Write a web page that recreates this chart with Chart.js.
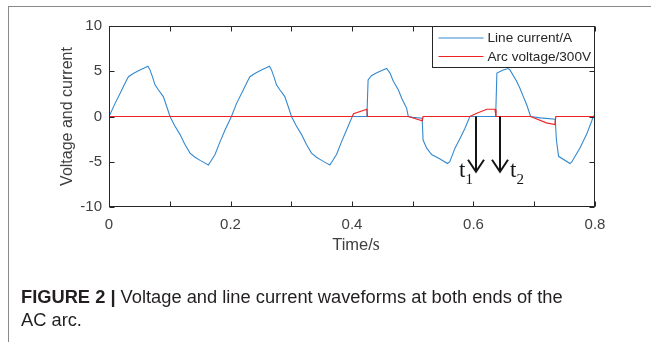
<!DOCTYPE html>
<html><head><meta charset="utf-8">
<script src="https://cdn.jsdelivr.net/npm/chart.js@4.4.1/dist/chart.umd.min.js"></script>
<style>
html,body{margin:0;padding:0;background:#fff;}
#wrap{position:relative;width:651px;height:342px;overflow:hidden;background:#fff;}
#frame{position:absolute;left:8px;top:6px;width:700px;height:400px;border-top:1px solid #8a8a8a;border-left:1px solid #8a8a8a;}
canvas{position:absolute;left:0;top:0;}
#cap{position:absolute;left:21px;top:285px;font-family:"Liberation Sans",Arial,sans-serif;font-size:18.3px;line-height:23px;color:#231f20;white-space:nowrap;}
</style></head><body>
<div id="wrap"><div id="frame"></div><canvas id="c" width="651" height="342"></canvas>
<div id="cap"><b>FIGURE 2 |</b> Voltage and line current waveforms at both ends of the<br>AC arc.</div></div>
<script>
// ---- data ----
const seriesLabels = ['Line current/A', 'Arc voltage/300V'];
const currentTime = [
 0,0.010,0.020,0.028,0.032,0.040,0.050,0.058,0.064,0.0675,0.072,0.0757,0.0812,0.0894,0.095,0.1004,
 0.108,0.117,0.125,0.1333,0.1416,0.150,0.158,0.1635,0.167,0.1745,0.1827,0.191,0.2015,
 0.210,0.220,0.228,0.232,0.240,0.250,0.258,0.264,0.2675,0.272,0.2757,0.2812,0.2894,0.295,0.3004,
 0.308,0.317,0.325,0.3333,0.3416,0.350,0.358,0.3635,0.367,0.3745,0.3827,0.391,0.4005,
 0.4245,0.4265,0.432,0.440,0.450,0.457,0.4626,0.468,0.4762,0.482,0.490,0.4927,
 0.500,0.5155,0.517,0.523,0.531,0.545,0.557,0.561,0.5695,0.578,0.586,0.594,
 0.6365,0.6385,0.649,0.657,0.660,0.671,0.6766,0.682,0.6876,0.694,
 0.710,0.7345,0.7365,0.740,0.7588,0.762,0.775,0.786,0.7946,0.797,0.8
];
const currentValue = [
 0,1.45,2.8,3.9,4.4,4.75,5.1,5.35,5.55,5.15,4.3,3.5,2.95,2.2,1.1,0,
 -1.0,-2.0,-3.1,-4.05,-4.5,-4.85,-5.15,-5.35,-5.0,-4.2,-2.8,-1.5,0,
 1.45,2.8,3.9,4.4,4.75,5.1,5.35,5.55,5.15,4.3,3.5,2.95,2.2,1.1,0,
 -1.0,-2.0,-3.1,-4.05,-4.5,-4.85,-5.15,-5.35,-5.0,-4.2,-2.8,-1.5,0,
 0,4.05,4.5,4.8,5.1,5.3,4.8,3.9,2.95,2.0,0.9,0,
 -0.1,-0.2,-2.6,-3.5,-4.2,-4.7,-5.2,-5.0,-3.5,-2.4,-1.3,0,
 0,4.8,5.15,5.3,5.15,3.9,3.1,2.2,1.3,0,
 -0.15,-0.3,-2.6,-4.4,-5.2,-5.0,-3.5,-2.0,-0.5,0,0
];
const voltageTime  = [0,0.4005,0.4025,0.4245,0.4255,0.4927,0.5155,0.517,0.594,0.6035,0.6217,0.6354,0.637,0.694,0.720,0.734,0.7355,0.797,0.8];
const voltageValue = [0,0,0.3,0.8,0,0,-0.47,0,0,0.3,0.8,0.8,0,0,-0.7,-0.9,0,0,0.1];
const xTickLabels = ['0','0.2','0.4','0.6','0.8'];
const yTickValues = [-10,-5,0,5,10];
const arrowTimes = [0.604, 0.6436];
const arrowSubs = ['1','2'];
const arrowDepth = -6.1;

const SANS = '"Liberation Sans", Arial, sans-serif';
const SERIF = '"Liberation Serif", "Times New Roman", serif';
const AXIS = '#262626';
const BLUE = '#3489d0';
const RED = '#ee2424';

function pts(t, v){ return t.map((x,i)=>({x:x, y:v[i]})); }

const decor = {
  id:'decor',
  afterDatasetsDraw(chart){
    const {ctx, chartArea:a, scales:{x, y}} = chart;
    ctx.save();
    // box
    ctx.strokeStyle = AXIS; ctx.lineWidth = 1;
    const L = Math.round(a.left)+0.5, R = Math.round(a.right)-0.5, T = Math.round(a.top)+0.5, B = Math.round(a.bottom)-0.5;
    ctx.strokeRect(L, T, R-L, B-T);
    // inward ticks
    ctx.beginPath();
    x.ticks.forEach(tk=>{
      const px = Math.round(x.getPixelForValue(tk.value))+0.5;
      ctx.moveTo(px, B); ctx.lineTo(px, B-5);
      ctx.moveTo(px, T); ctx.lineTo(px, T+5);
    });
    yTickValues.forEach(v=>{
      const py = Math.round(y.getPixelForValue(v))+0.5;
      ctx.moveTo(L, py); ctx.lineTo(L+5, py);
      ctx.moveTo(R, py); ctx.lineTo(R-5, py);
    });
    ctx.stroke();
    // arrows t1, t2
    ctx.strokeStyle = '#151515'; ctx.fillStyle = '#151515'; ctx.lineWidth = 2;
    arrowTimes.forEach((t,i)=>{
      const px = Math.round(x.getPixelForValue(t));
      const y0 = y.getPixelForValue(0), y1 = y.getPixelForValue(arrowDepth);
      ctx.beginPath(); ctx.moveTo(px, y0); ctx.lineTo(px, y1); ctx.stroke();
      ctx.beginPath(); ctx.moveTo(px-8, y1-12); ctx.lineTo(px, y1); ctx.lineTo(px+8, y1-12); ctx.stroke();
      ctx.font = '23px ' + SERIF; ctx.textBaseline = 'alphabetic'; ctx.textAlign = 'left';
      const tx = i===0 ? px-17 : px+10;
      ctx.fillText('t', tx, y1+5);
      const w = ctx.measureText('t').width;
      ctx.font = '15px ' + SERIF;
      ctx.fillText(arrowSubs[i], tx+w, y1+12);
    });
    // legend
    const lw = 162, lh = 41;
    const lx = Math.round(a.right) - lw - 0.5, ly = Math.round(a.top) + 0.5;
    ctx.fillStyle = '#fff'; ctx.fillRect(lx, ly, lw, lh);
    ctx.strokeStyle = AXIS; ctx.lineWidth = 1; ctx.strokeRect(lx, ly, lw, lh);
    const cols = [BLUE, RED];
    seriesLabels.forEach((s,i)=>{
      const yy = ly + 11.5 + i*18.5;
      ctx.strokeStyle = cols[i]; ctx.lineWidth = 1.2;
      ctx.beginPath(); ctx.moveTo(lx+6, yy); ctx.lineTo(lx+51, yy); ctx.stroke();
      ctx.fillStyle = AXIS; ctx.font = '13.6px ' + SANS; ctx.textBaseline = 'middle';
      ctx.fillText(s, lx+55, yy+0.5);
    });
    ctx.restore();
  },
  afterDraw(chart){
    const {ctx, chartArea:a} = chart;
    ctx.save();
    ctx.fillStyle = '#404040'; ctx.textBaseline = 'alphabetic'; ctx.textAlign = 'left';
    ctx.font = '16.5px ' + SANS;
    const w1 = ctx.measureText('Time/').width;
    ctx.font = '18px ' + SERIF;
    const w2 = ctx.measureText('s').width;
    const cx = (a.left + a.right)/2 + 4 - (w1+w2)/2;
    ctx.font = '16.5px ' + SANS; ctx.fillText('Time/', cx, 250);
    ctx.font = '18px ' + SERIF; ctx.fillText('s', cx+w1, 250);
    ctx.restore();
  }
};

new Chart(document.getElementById('c'), {
  type:'line',
  data:{ datasets:[
    {label:seriesLabels[0], data:pts(currentTime,currentValue), borderColor:BLUE, borderWidth:1.1, pointRadius:0, tension:0, order:1},
    {label:seriesLabels[1], data:pts(voltageTime,voltageValue), borderColor:RED, borderWidth:1.2, pointRadius:0, tension:0, order:0}
  ]},
  options:{
    responsive:false, animation:false, devicePixelRatio:1,
    layout:{padding:{left:0, top:26, right:56, bottom:95}},
    plugins:{legend:{display:false}, tooltip:{enabled:false}},
    scales:{
      x:{type:'linear', min:0, max:0.8,
        ticks:{stepSize:0.1, autoSkip:false, maxRotation:0, padding:9, color:'#404040', font:{family:SANS, size:15},
          callback:(v)=>{ const k=Math.round(v*10); return k%2===0 ? xTickLabels[k/2] : ''; }},
        grid:{display:false, drawTicks:false}, border:{display:false},
        afterFit(s){ s.height = 40; }
      },
      y:{min:-10, max:10,
        ticks:{stepSize:5, padding:7, color:'#404040', font:{family:SANS, size:15}},
        grid:{display:false, drawTicks:false}, border:{display:false},
        title:{display:true, text:'Voltage and current', color:'#404040', font:{family:SANS, size:16}, padding:{top:58, bottom:0}},
        afterFit(s){ s.width = 109; }
      }
    }
  },
  plugins:[decor]
});
</script>
</body></html>
